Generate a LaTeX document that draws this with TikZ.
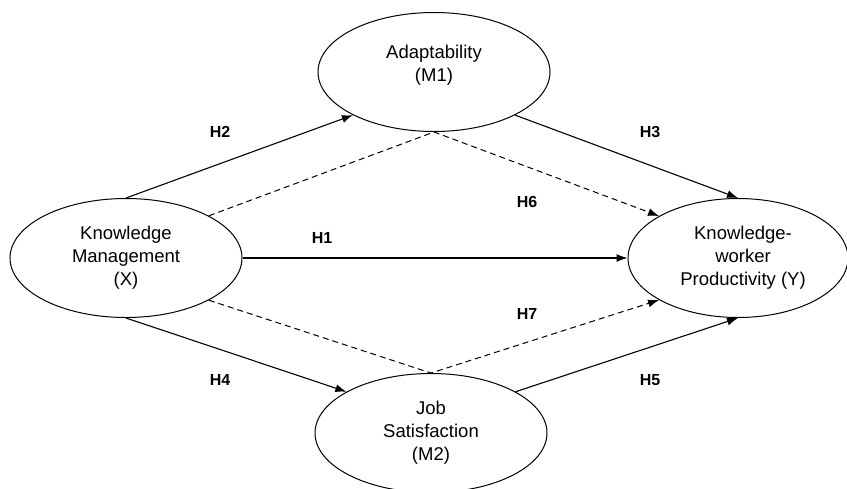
\documentclass[tikz,border=0pt]{standalone}
\usepackage{fontspec}
\setmainfont{Liberation Sans}
\usetikzlibrary{shapes.geometric,arrows.meta}
\tikzset{
  var/.style={ellipse, draw, line width=1pt, inner sep=0pt, minimum width=232pt, minimum height=119pt, align=center, font=\fontsize{18.5}{23}\selectfont},
  hyp/.style={font=\fontsize{16}{19}\selectfont\bfseries, inner sep=0pt},
  conn/.style={line width=1.1pt, -{Latex[length=11pt,width=8pt]}},
  ind/.style={line width=1pt, dash pattern=on 6pt off 4pt, -{Latex[length=11pt,width=8pt]}}
}
\begin{document}
\begin{tikzpicture}[x=1pt,y=-1pt]
\useasboundingbox (0,0) rectangle (847,488);
\clip (0,0) rectangle (847,488);
\fill[white] (0,0) rectangle (847,488);
\node[var] (M1) at (434,72) {Adaptability\\(M1)\\[-6pt]\rule{0pt}{14pt}};
\node[var] (X) at (126,258) {Knowledge\\Management\\(X)};
\node[var, minimum width=220pt] (Y) at (738,258) {\hspace*{10pt}Knowledge-\\\hspace*{10pt}worker\\\hspace*{10pt}Productivity (Y)};
\node[var] (M2) at (431,433) {Job\\Satisfaction\\(M2)};
\draw[conn] (X.north) -- (M1.208);
\draw[conn] (M1.-28) -- (Y.north);
\draw[conn] (X.east) -- (Y.west);
\draw[conn] (X.south) -- (M2.154);
\draw[conn] (M2.26) -- (Y.south);
\draw[ind] (X.27) -- (M1.south) -- (Y.152);
\draw[ind] (X.-27) -- (M2.north) -- (Y.208);
\node[hyp] (h2) at (220,132) {H2};
\node[hyp] (h3) at (650,132) {H3};
\node[hyp] (h6) at (527,202) {H6};
\node[hyp] (h1) at (322,238) {H1};
\node[hyp] (h7) at (527,314) {H7};
\node[hyp] (h4) at (220,380) {H4};
\node[hyp] (h5) at (650,380) {H5};
\end{tikzpicture}
\end{document}
